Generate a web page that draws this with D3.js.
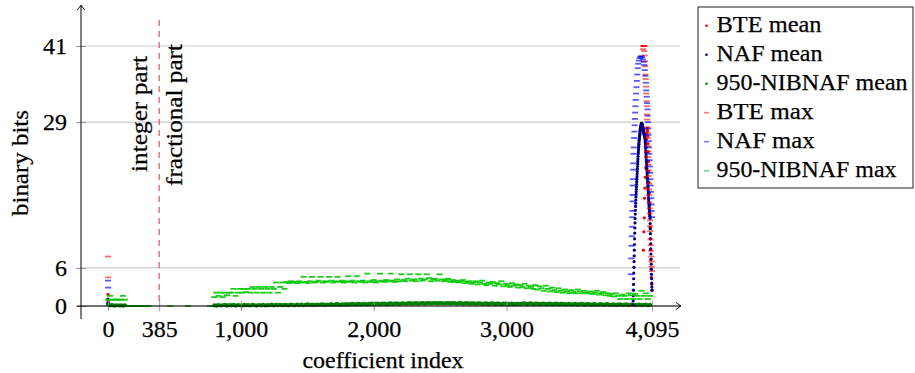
<!DOCTYPE html>
<html><head><meta charset="utf-8">
<script src="https://cdn.jsdelivr.net/npm/d3@7"></script>
<style>
html,body{margin:0;padding:0;background:#fff;}
svg{display:block;}
text{font-family:"Liberation Serif","DejaVu Serif",serif;fill:#000;stroke:#000;stroke-width:0.25;}
</style></head><body>
<svg id="c" width="915" height="373"></svg>
<script>
// ---------------- data ----------------
const xTicks = [0, 385, 1000, 2000, 3000, 4095];
const xTickLabels = ["0", "385", "1,000", "2,000", "3,000", "4,095"];
const yTicks = [0, 6, 29, 41];
const yTickLabels = ["0", "6", "29", "41"];
const splitIndex = 385;
const seriesNames = ["BTE mean", "NAF mean", "950-NIBNAF mean", "BTE max", "NAF max", "950-NIBNAF max"];

// BTE mean
const bteMeanIdx = [0, 1, 4030, 4034, 4037, 4039, 4041, 4044, 4047, 4049, 4051, 4053, 4055, 4057, 4059, 4061, 4063, 4065, 4067, 4069, 4071, 4073, 4075, 4077, 4079, 4081, 4083, 4085, 4087, 4089, 4091, 4093, 4095];
const bteMeanVal = [1.85, 0.7, 8.8, 11.7, 13.9, 17.0, 18.6, 20.3, 21.8, 23.5, 25.0, 26.3, 27.2, 27.8, 28.0, 27.6, 26.8, 25.6, 24.3, 22.8, 21.2, 19.5, 17.8, 16.0, 14.2, 12.4, 10.6, 8.9, 7.3, 5.8, 4.5, 3.4, 2.5];

// NAF mean (index 0,1 then every index 3952..4095)
const nafMeanIdx = [0, 1].concat(d3.range(3952, 4096));
const nafMeanVal = [1.1, 0.5,
  0.2, 0.8, 1.6, 2.5, 3.4, 4.3, 5.2, 6.1, 7.0, 7.9,
  8.8, 9.7, 10.6, 11.5, 12.3, 13.1, 13.8, 14.5, 15.1, 15.7,
  16.2, 16.7, 17.2, 17.6, 18.0, 18.4, 18.8, 19.2, 19.6, 20.0,
  20.4, 20.8, 21.2, 21.6, 22.0, 22.4, 22.8, 23.2, 23.6, 24.0,
  24.3, 24.6, 24.9, 25.2, 25.5, 25.8, 26.1, 26.3, 26.5, 26.7,
  26.9, 27.1, 27.3, 27.5, 27.7, 27.9, 28.0, 28.1, 28.2, 28.3,
  28.4, 28.5, 28.6, 28.7, 28.8,
  28.8, 28.8, 28.7, 28.7, 28.6, 28.5, 28.4, 28.3, 28.2, 28.1, 28.0, 27.9, 27.8,
  27.7, 27.6, 27.5, 27.4, 27.3, 27.2, 27.1, 27.0, 26.9, 26.8, 26.7, 26.6, 26.5,
  26.2, 25.9, 25.6, 25.2, 24.9, 24.5, 24.2, 23.8, 23.5, 23.1, 22.8, 22.4, 22.1, 21.7,
  21.4, 21.0, 20.7, 20.3, 20.0, 19.6, 19.3, 18.9, 18.6, 18.2, 17.8, 17.5, 17.1,
  16.8, 16.5, 16.2, 15.9, 15.6, 15.3, 15.0, 14.7, 14.4, 14.1, 13.8,
  13.0, 12.2, 11.4, 10.6, 9.8, 9.0, 8.2, 7.4, 6.6, 5.8, 5.0, 4.3, 3.6, 3.0, 2.5];

// 950-NIBNAF mean
const nibMeanIdx = [0, 16, 32, 48, 64, 80, 96, 112, 128].concat(d3.range(800, 4096, 16));
const nibMeanVal = [0.3, 0.1, 0.15, 0.05, 0.12, 0.08, 0.1, 0.05, 0.1,
  .10,.05,.15,.08,.12,.20,.06,.14, .10,.18,.07,.15,.12,.05,.18,.10,
  .14,.08,.20,.12,.06,.16,.10,.19, .08,.15,.12,.22,.09,.17,.13,.20,
  .12,.20,.15,.10,.22,.16,.12,.22, .15,.23,.12,.19,.25,.16,.21,.14,
  .24,.18,.22,.27,.17,.24,.20,.28, .20,.25,.29,.19,.27,.23,.30,.21,
  .28,.32,.24,.29,.33,.25,.31,.35, .27,.33,.36,.29,.34,.38,.30,.36,
  .39,.31,.37,.40,.32,.38,.41,.33, .39,.43,.35,.41,.44,.37,.42,.45,
  .37,.43,.46,.39,.44,.47,.40,.45, .47,.40,.45,.47,.39,.44,.47,.40,
  .45,.47,.38,.43,.46,.37,.42,.44, .36,.41,.43,.35,.40,.42,.34,.39,
  .41,.32,.38,.40,.31,.36,.39,.30, .36,.37,.29,.34,.36,.28,.33,.35,
  .32,.38,.41,.31,.37,.40,.30,.36, .39,.29,.35,.38,.28,.34,.37,.27,
  .33,.36,.26,.32,.35,.25,.31,.34, .24,.30,.33,.23,.29,.32,.22,.28,
  .31,.21,.27,.30,.20,.26,.29,.19, .25,.28,.18,.24,.27,.17,.23,.26,
  .16,.22,.25,.15,.21,.24,.14,.20, .23,.13,.19,.22,.12,.18];

// BTE max
const bteMaxIdx = [0, 1, 4028, 4030, 4032, 4034, 4036, 4038, 4040, 4042, 4044, 4046, 4048, 4050, 4052, 4054, 4056, 4057, 4058, 4060, 4061, 4062, 4064, 4065, 4066, 4068, 4069, 4070, 4072, 4073, 4074, 4076, 4077, 4078, 4080, 4081, 4082, 4084, 4085, 4087, 4089, 4091, 4093, 4095];
const bteMaxVal = [7.8, 4.5, 40.5, 41, 41, 41, 40.2, 41, 39.5, 38.6, 37.8, 36.5, 35.8, 34.6, 33.5, 32.3, 31.5, 30.2, 29.4, 28.2, 27.3, 26.5, 25.2, 24.4, 23.5, 22.3, 21.4, 20.5, 19.3, 18.4, 17.5, 16.3, 15.4, 14.6, 13.5, 12.6, 11.8, 10.5, 9.6, 8.7, 7.8, 7.0, 6.2, 5.5];

// NAF max
const nafMaxIdx = [0, 1, 3937, 3939, 3941, 3943, 3945, 3946, 3947, 3948, 3949, 3950, 3952, 3953, 3954, 3956, 3958, 3960, 3962, 3964, 3966, 3968, 3970, 3972, 3975, 3978, 3981, 3984, 3988, 3992, 3997, 4002, 4008, 4014, 4020, 4026, 4032, 4037, 4041, 4045, 4049, 4052, 4055, 4058, 4061, 4063, 4065, 4067, 4069, 4071, 4073, 4075, 4077, 4079, 4081, 4083, 4085, 4087, 4089, 4091, 4093, 4095];
const nafMaxVal = [4.0, 2.9, 5, 7.5, 9.5, 11, 12.5, 14, 15, 16.5, 17.5, 19, 20, 21.5, 22.5, 24, 25, 26.5, 27.5, 28.5, 29.5, 30.5, 31.5, 32.5, 33.5, 34.5, 35.5, 36.5, 37.5, 38.2, 38.7, 39.1, 39.3, 39.4, 39.2, 38.9, 38.5, 38, 37.2, 36.3, 35.2, 34, 33, 32, 31, 30, 29, 28, 27, 26, 25, 24, 23, 22, 21, 20, 19, 18, 17, 16, 15, 14];

// 950-NIBNAF max
const nibMaxIdx = d3.range(0, 305, 16).concat([467, 602, 768], d3.range(800, 4096, 16));
const nibMaxVal = [1.0, 1.6, 1.0, 1.0, 1.0, 1.0, 1.0, 1.6, 1.0, 0, 0, 0, 0, 0, 0, 0, 0, 0, 0, 0, 0, 0, 0,
  1.4,2.1,1.6,2.1,1.4,2.1,1.7,2.1, 2.1,2.7,1.6,2.1,2.7,2.1,2.7,2.2,
  2.7,2.1,3.0,2.7,2.1,3.0,2.7,2.1, 3.0,2.7,2.1,3.0,2.7,3.7,2.1,3.0,
  3.7,2.7,3.8,3.6,3.9,3.7,3.8,3.6, 3.9,3.7,4.6,3.8,3.6,3.9,4.6,3.7,
  3.8,4.0,4.6,3.7,3.9,3.8,4.6,4.0, 3.7,3.9,4.6,3.8,4.0,3.7,3.9,4.7,
  3.8,4.0,3.7,4.7,3.9,3.8,4.0,3.7, 5.1,3.9,3.8,4.1,3.7,3.9,5.1,4.0,
  3.8,4.1,3.9,5.1,4.0,3.8,4.2,3.9, 5.0,4.1,3.9,4.3,5.0,4.0,4.2,3.9,
  5.0,4.3,4.0,4.2,5.0,4.4,3.9,4.2, 4.3,4.0,5.0,4.2,3.9,4.1,4.3,3.8,
  4.1,3.8,4.0,3.7,3.9,4.1,3.6,3.8, 3.9,3.5,3.7,3.9,3.4,3.7,4.0,3.5,
  3.3,3.7,3.5,3.8,3.2,3.6,3.4,3.9, 3.1,3.5,3.3,3.0,3.6,3.2,3.4,2.9,
  3.3,3.0,3.5,2.8,3.2,3.0,2.7,3.3, 2.6,3.1,2.8,2.4,3.2,2.7,2.3,2.9,
  2.5,2.2,2.8,2.4,2.1,2.6,2.3,2.0, 2.5,2.2,2.0,2.6,2.3,2.0,2.4,2.1,
  2.0,2.3,1.9,2.1,2.4,1.8,2.0,2.2, 1.7,2.0,1.6,1.9,1.5,2.0,1.6,1.1,
  1.8,1.6,1.1,2.0,1.7,1.1,1.9,1.6, 1.1,2.4,1.6,2.0,1.1,1.6];

// ---------------- drawing ----------------
const svg = d3.select("#c");
const x = d3.scaleLinear().domain([0, 4095]).range([108, 652]);
const y = d3.scaleLinear().domain([0, 41]).range([306, 46]);
const FONT = 24;
const FAM = "Liberation Serif, DejaVu Serif, serif";

const zip = (a, b) => a.slice(0, Math.min(a.length, b.length)).map((d, i) => [d, b[i]]);

// grid
svg.append("g").selectAll("line").data(yTicks).join("line")
  .attr("x1", 81).attr("x2", 680)
  .attr("y1", d => y(d)).attr("y2", d => y(d))
  .attr("stroke", "#cccccc").attr("stroke-width", 1.2);

const colors = {
  bte: "#ff0000", naf: "#000080", nibMean: "#008000",
  nibMax: "#00c800"
};

function dots(idx, vals, color, r) {
  svg.append("g").selectAll("circle").data(zip(idx, vals)).join("circle")
    .attr("cx", d => x(d[0])).attr("cy", d => y(d[1])).attr("r", r)
    .attr("fill", color);
}
function dashes(idx, vals, color, op) {
  svg.append("g").selectAll("line").data(zip(idx, vals)).join("line")
    .attr("x1", d => x(d[0]) - 3).attr("x2", d => x(d[0]) + 3)
    .attr("y1", d => y(d[1])).attr("y2", d => y(d[1]))
    .attr("stroke", color).attr("stroke-opacity", op).attr("stroke-width", 1.8);
}

// split line
svg.append("line")
  .attr("x1", x(splitIndex)).attr("x2", x(splitIndex))
  .attr("y1", 20).attr("y2", y(0))
  .attr("stroke", "#d83030").attr("stroke-width", 1)
  .attr("stroke-dasharray", "6,5");

dots(bteMeanIdx, bteMeanVal, colors.bte, 1.6);
dots(nibMeanIdx, nibMeanVal, colors.nibMean, 2.1);
dots(nafMeanIdx, nafMeanVal, colors.naf, 1.6);
dashes(bteMaxIdx, bteMaxVal, "#ff0000", 0.6);
dashes(nafMaxIdx, nafMaxVal, "#0000ff", 0.65);
dashes(nibMaxIdx, nibMaxVal, colors.nibMax, 0.9);

// axes with ticks
const xAxis = d3.axisBottom(x).tickValues(xTicks).tickFormat((d, i) => xTickLabels[i])
  .tickSize(10).tickPadding(9);
const gx = svg.append("g").attr("transform", `translate(0,${y(0) - 5})`).call(xAxis);
gx.attr("font-family", FAM);
gx.select(".domain").remove();
gx.selectAll(".tick line").attr("stroke", "#999");
gx.selectAll(".tick text").attr("font-size", FONT).attr("fill", "#000");

const yAxis = d3.axisLeft(y).tickValues(yTicks).tickFormat((d, i) => yTickLabels[i])
  .tickSize(10).tickPadding(9);
const gy = svg.append("g").attr("transform", `translate(86,0)`).call(yAxis);
gy.attr("font-family", FAM);
gy.select(".domain").remove();
gy.selectAll(".tick line").attr("stroke", "#999");
gy.selectAll(".tick text").attr("font-size", FONT).attr("fill", "#000");

// axis lines + arrows
svg.append("line").attr("x1", 77).attr("x2", 680).attr("y1", y(0)).attr("y2", y(0))
  .attr("stroke", "#000").attr("stroke-width", 1);
svg.append("line").attr("x1", 81).attr("x2", 81).attr("y1", 319).attr("y2", 6)
  .attr("stroke", "#000").attr("stroke-width", 1);
const arrow = "M-5,-3.6 C-3,-2 -1,-0.6 0,0 C-1,0.6 -3,2 -5,3.6";
svg.append("path").attr("d", arrow).attr("transform", `translate(681,${y(0)})`)
  .attr("fill", "none").attr("stroke", "#000").attr("stroke-width", 1);
svg.append("path").attr("d", arrow).attr("transform", `translate(81,5) rotate(-90)`)
  .attr("fill", "none").attr("stroke", "#000").attr("stroke-width", 1);

// labels (widths matched to the reference)
function label(tr, txt, len) {
  svg.append("text").attr("transform", tr).attr("text-anchor", "middle")
    .attr("font-size", FONT).attr("textLength", len).attr("lengthAdjust", "spacingAndGlyphs").text(txt);
}
label("translate(383,368)", "coefficient index", 161);
label("translate(28,163) rotate(-90)", "binary bits", 106);
label("translate(147,114) rotate(-90)", "integer part", 116);
label("translate(182,115) rotate(-90)", "fractional part", 142);

// legend
const lg = svg.append("g");
lg.append("rect").attr("x", 698).attr("y", 7).attr("width", 215).attr("height", 181)
  .attr("fill", "#fff").attr("stroke", "#222").attr("stroke-width", 1);
const legendKinds = [
  {type: "dot", color: colors.bte, op: 1},
  {type: "dot", color: colors.naf, op: 1},
  {type: "dot", color: colors.nibMean, op: 1},
  {type: "dash", color: "#ff0000", op: 0.5},
  {type: "dash", color: "#0000ff", op: 0.5},
  {type: "dash", color: colors.nibMax, op: 0.55}
];
const legendLen = [105, 106, 191, 97, 98, 180];
seriesNames.forEach((name, i) => {
  const base = 31.7 + i * 29;
  const k = legendKinds[i];
  if (k.type === "dot") {
    lg.append("circle").attr("cx", 706.5).attr("cy", base - 6).attr("r", 1.3).attr("fill", k.color);
  } else {
    lg.append("line").attr("x1", 704).attr("x2", 709).attr("y1", base - 6).attr("y2", base - 6)
      .attr("stroke", k.color).attr("stroke-opacity", k.op).attr("stroke-width", 1.7);
  }
  lg.append("text").attr("x", 716.5).attr("y", base).attr("font-size", FONT)
    .attr("textLength", legendLen[i]).attr("lengthAdjust", "spacingAndGlyphs").text(name);
});
</script></body></html>
